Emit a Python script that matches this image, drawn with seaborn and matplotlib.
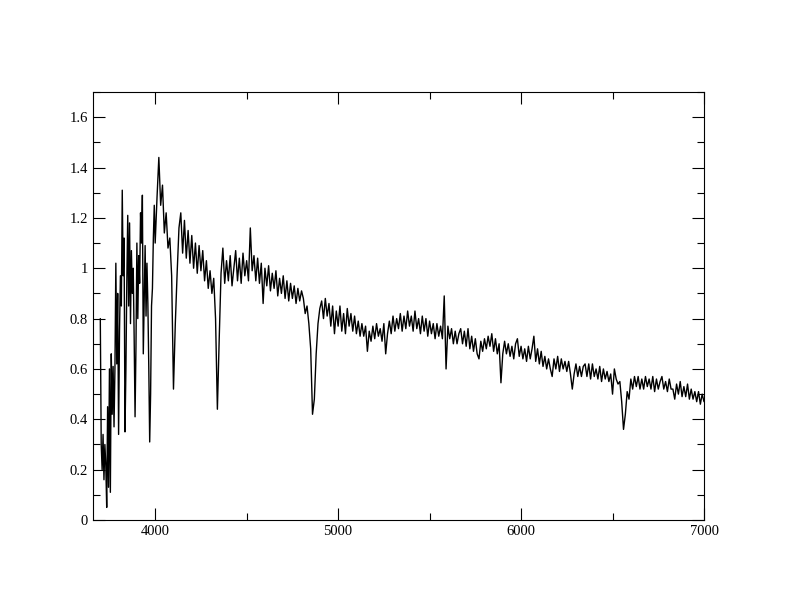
import numpy as np
import pandas as pd
import seaborn as sns
import matplotlib
matplotlib.use("Agg")
import matplotlib.pyplot as plt
from matplotlib.ticker import MultipleLocator, FuncFormatter

# wavelength grid (blue part sampled finer, the Balmer forest is busy there)
wl_blue = np.arange(3700, 4001, 5)
wl_red = np.arange(4010, 7001, 10)

flux_blue = [
    0.80, 0.30, 0.20, 0.34, 0.16, 0.30, 0.22, 0.05, 0.45, 0.13,
    0.60, 0.11, 0.66, 0.42, 0.61, 0.37, 0.60, 1.02, 0.62, 0.90,
    0.34, 0.75, 0.97, 0.85, 1.31, 0.97, 1.12, 0.35, 0.60, 0.95,
    1.21, 0.85, 1.18, 0.78, 1.07, 0.90, 1.00, 0.73, 0.41, 0.69,
    1.10, 0.80, 1.05, 0.94, 1.22, 1.10, 1.29, 0.66, 0.88, 1.09,
    0.81, 1.02, 0.86, 0.61, 0.31, 0.50, 0.85, 0.92, 1.12, 1.25,
    1.10,
]

flux_red = [
    # 4010 - 4400
    1.28, 1.44, 1.25, 1.33, 1.14, 1.22, 1.08, 1.12, 0.97, 0.52,
    0.78, 0.98, 1.16, 1.22, 1.06, 1.19, 1.04, 1.15, 1.02, 1.13,
    1.00, 1.10, 0.98, 1.09, 0.99, 1.07, 0.95, 1.03, 0.92, 0.99,
    0.90, 0.96, 0.80, 0.44, 0.72, 0.98, 1.08, 0.94, 1.03, 0.95,
    # 4410 - 4800
    1.05, 0.93, 1.00, 1.07, 0.95, 1.04, 0.94, 1.06, 0.97, 1.03,
    0.95, 1.16, 0.99, 1.05, 0.95, 1.04, 0.94, 1.02, 0.86, 1.00,
    0.93, 1.01, 0.91, 0.98, 0.92, 0.99, 0.89, 0.96, 0.90, 0.97,
    0.88, 0.95, 0.87, 0.94, 0.88, 0.93, 0.86, 0.92, 0.87, 0.91,
    # 4810 - 5200
    0.88, 0.82, 0.85, 0.78, 0.68, 0.42, 0.48, 0.66, 0.78, 0.84,
    0.87, 0.80, 0.88, 0.81, 0.86, 0.77, 0.85, 0.74, 0.83, 0.77,
    0.85, 0.75, 0.82, 0.74, 0.84, 0.77, 0.82, 0.75, 0.81, 0.74,
    0.79, 0.73, 0.78, 0.73, 0.77, 0.67, 0.75, 0.71, 0.77, 0.72,
    # 5210 - 5600
    0.78, 0.73, 0.76, 0.71, 0.78, 0.66, 0.74, 0.79, 0.74, 0.81,
    0.75, 0.80, 0.76, 0.82, 0.75, 0.81, 0.76, 0.83, 0.77, 0.81,
    0.75, 0.83, 0.76, 0.80, 0.74, 0.81, 0.75, 0.80, 0.73, 0.79,
    0.74, 0.78, 0.72, 0.78, 0.73, 0.77, 0.72, 0.89, 0.60, 0.77,
    # 5610 - 6000
    0.72, 0.76, 0.70, 0.75, 0.70, 0.74, 0.76, 0.70, 0.75, 0.69,
    0.76, 0.68, 0.73, 0.67, 0.72, 0.66, 0.64, 0.71, 0.67, 0.72,
    0.68, 0.73, 0.69, 0.74, 0.67, 0.72, 0.66, 0.70, 0.545, 0.66,
    0.71, 0.66, 0.70, 0.65, 0.69, 0.64, 0.70, 0.72, 0.65, 0.69,
    # 6010 - 6400
    0.64, 0.68, 0.63, 0.69, 0.64, 0.68, 0.73, 0.63, 0.68, 0.62,
    0.67, 0.61, 0.65, 0.60, 0.64, 0.60, 0.57, 0.64, 0.60, 0.65,
    0.59, 0.64, 0.60, 0.63, 0.59, 0.63, 0.58, 0.52, 0.58, 0.62,
    0.57, 0.61, 0.57, 0.61, 0.62, 0.57, 0.62, 0.56, 0.62, 0.57,
    # 6410 - 6800
    0.60, 0.56, 0.61, 0.55, 0.60, 0.56, 0.59, 0.55, 0.58, 0.50,
    0.60, 0.56, 0.54, 0.55, 0.47, 0.36, 0.42, 0.51, 0.48, 0.56,
    0.52, 0.57, 0.53, 0.57, 0.52, 0.56, 0.52, 0.57, 0.53, 0.56,
    0.52, 0.57, 0.51, 0.56, 0.52, 0.55, 0.57, 0.52, 0.55, 0.51,
    # 6810 - 7000
    0.56, 0.52, 0.52, 0.48, 0.54, 0.50, 0.55, 0.49, 0.53, 0.49,
    0.54, 0.48, 0.52, 0.48, 0.51, 0.47, 0.51, 0.46, 0.50, 0.47,
]

assert len(flux_blue) == len(wl_blue)
assert len(flux_red) == len(wl_red)

spec = pd.DataFrame({
    "wavelength": np.concatenate([wl_blue, wl_red]),
    "flux": flux_blue + flux_red,
})

sns.set_style("ticks")
plt.rcParams["font.family"] = ["Liberation Serif", "DejaVu Serif"]

fig = plt.figure(figsize=(7.92, 6.12), dpi=100)
ax = fig.add_axes([0.1174, 0.1503, 0.7715, 0.6994])

sns.lineplot(data=spec, x="wavelength", y="flux", ax=ax, color="black",
             linewidth=1.0, estimator=None, sort=True)

ax.set_xlim(3660, 7000)
ax.set_ylim(0, 1.7)
ax.xaxis.set_major_locator(MultipleLocator(1000))
ax.xaxis.set_minor_locator(MultipleLocator(500))
ax.yaxis.set_major_locator(MultipleLocator(0.2))
ax.yaxis.set_minor_locator(MultipleLocator(0.1))
ax.yaxis.set_major_formatter(FuncFormatter(lambda v, p: "%g" % round(v, 2)))
ax.tick_params(which="both", direction="in", top=True, right=True,
               labelsize=10.5, colors="black", width=0.8)
ax.tick_params(which="major", length=8.5)
ax.tick_params(which="minor", length=5)
for s in ax.spines.values():
    s.set_linewidth(0.8)
    s.set_color("black")
ax.set_xlabel("")
ax.set_ylabel("")

fig.savefig("out.png", dpi=100)
